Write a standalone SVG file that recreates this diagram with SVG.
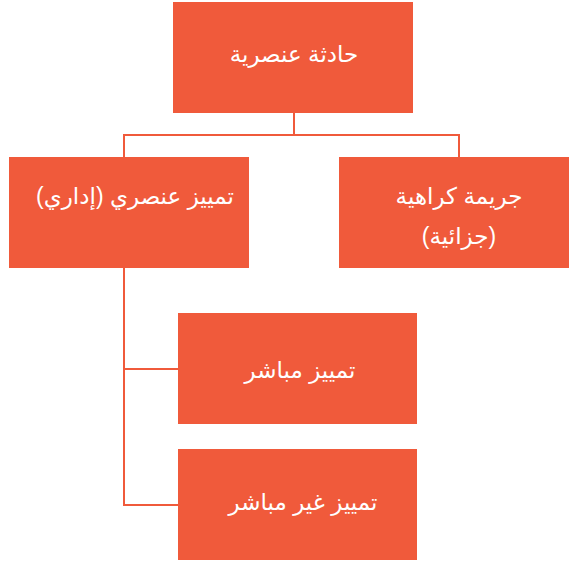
<svg xmlns="http://www.w3.org/2000/svg" width="569" height="563" viewBox="0 0 569 563">
<style>
.box{fill:#F05A3B;}
.lbl{font-family:"Liberation Sans","DejaVu Sans","Noto Sans",sans-serif;font-size:23px;fill:#FFFFFF;text-anchor:middle;direction:rtl;unicode-bidi:embed;}
.con{fill:none;stroke:#F05A3B;stroke-width:2;}
</style>
<rect width="569" height="563" fill="#FFFFFF"/>
<g id="connectors">
<path class="con" d="M294 112 V135 M124 158 V135 H459 V158"/>
<path class="con" d="M124 268 V505 H178 M124 369 H178"/>
</g>
<g id="n-top">
<rect class="box" x="173" y="2" width="240" height="111"/>
<text class="lbl" x="294" y="62">حادثة عنصرية</text>
</g>
<g id="n-left">
<rect class="box" x="9" y="157" width="240" height="111"/>
<text class="lbl" x="135" y="204">تمييز عنصري (إداري)</text>
</g>
<g id="n-right">
<rect class="box" x="339" y="157" width="240" height="111"/>
<text class="lbl" x="459" y="204">جريمة كراهية</text>
<text class="lbl" x="459" y="244">(جزائية)</text>
</g>
<g id="n-direct">
<rect class="box" x="178" y="313" width="239" height="111"/>
<text class="lbl" x="300" y="378">تمييز مباشر</text>
</g>
<g id="n-indirect">
<rect class="box" x="178" y="449" width="239" height="111"/>
<text class="lbl" x="303" y="510">تمييز غير مباشر</text>
</g>
</svg>
